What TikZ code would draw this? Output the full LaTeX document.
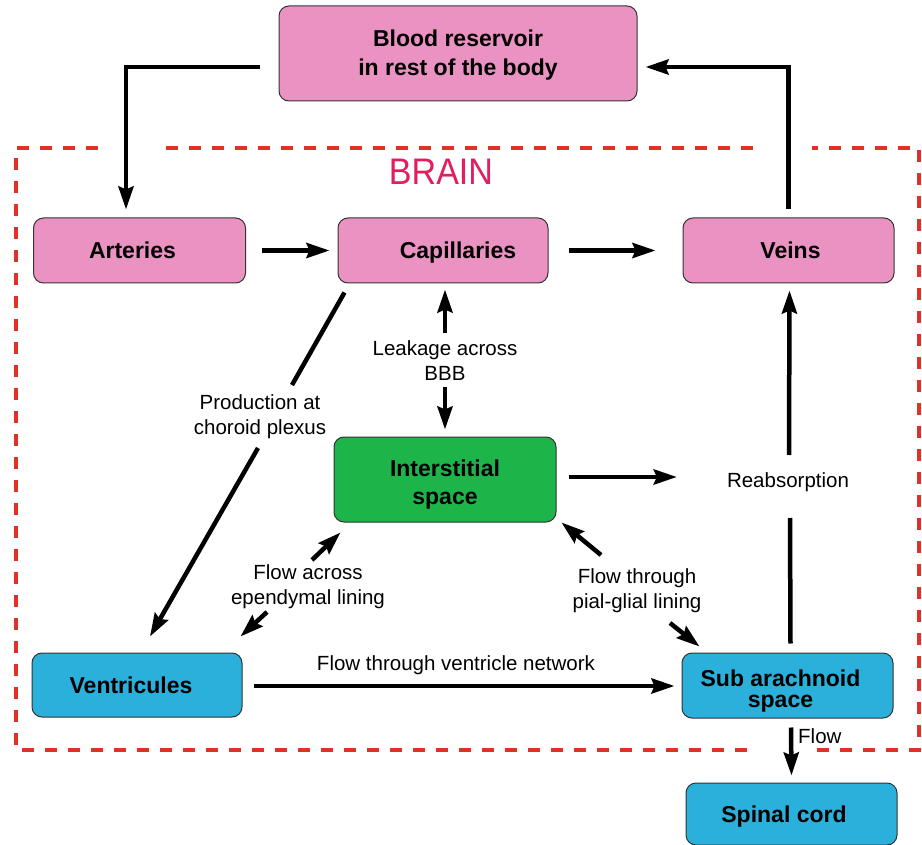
\documentclass[tikz,border=0pt]{standalone}
\usepackage{fontspec}
\setmainfont{Liberation Sans}
\newfontfamily\brainfont[FakeStretch=0.92]{Liberation Sans}
\usetikzlibrary{arrows.meta}
\definecolor{pinkc}{RGB}{234,146,193}
\definecolor{greenc}{RGB}{29,181,74}
\definecolor{bluec}{RGB}{42,176,218}
\definecolor{redc}{RGB}{224,49,39}
\definecolor{brainc}{RGB}{226,30,94}
\begin{document}
\begin{tikzpicture}[x=1pt,y=-1pt,
  box/.style={draw=black!80, line width=1pt, rounded corners=10pt, align=center, inner sep=0pt,
    font=\bfseries\fontsize{23}{29}\selectfont},
  one/.style={text height=17pt, text depth=0pt},
  pinkbox/.style={box, fill=pinkc},
  greenbox/.style={box, fill=greenc},
  bluebox/.style={box, fill=bluec},
  lbl/.style={font=\fontsize{20.5}{25}\selectfont, align=center, inner sep=0pt},
  arr/.style={line width=4.5pt, line join=miter, -{Stealth[length=23pt,width=15pt,inset=3pt]}},
  plain/.style={line width=4.5pt},
  border/.style={draw=redc, line width=4pt, dash pattern=on 12pt off 11pt}
]
\useasboundingbox (0,0) rectangle (922,845);

% brain boundary
\draw[border] (98,148) -- (16,148) -- (16,750) -- (758,750);
\draw[border] (817,750) -- (919,750) -- (919,148) -- (812,148);
\draw[border] (753,148) -- (157,148);
\node[font=\brainfont\fontsize{37}{40}\selectfont, text=brainc, inner sep=0pt] (brain) at (441,172) {BRAIN};

% boxes
\node[pinkbox, minimum width=358pt, minimum height=95pt] (res) at (458,53.5) {\rule{0pt}{19pt}Blood reservoir\\in rest of the body};
\node[pinkbox, one, minimum width=212pt, minimum height=65pt] (art) at (139.5,250.5) {Arteries\hspace*{14pt}};
\node[pinkbox, one, minimum width=210pt, minimum height=65pt] (cap) at (443,250.5) {\hspace*{30pt}Capillaries};
\node[pinkbox, one, minimum width=211pt, minimum height=65pt] (vein) at (788.5,250.5) {\hspace*{4pt}Veins};
\node[greenbox, minimum width=222pt, minimum height=85pt, font=\bfseries\fontsize{23}{28}\selectfont] (inter) at (445,479.5) {\rule{0pt}{27pt}Interstitial\\space};
\node[bluebox, one, minimum width=210pt, minimum height=64pt] (vent) at (137,685) {Ventricules\hspace*{12pt}};
\node[bluebox, minimum width=211pt, minimum height=65pt, font=\bfseries\fontsize{23}{21}\selectfont] (sub) at (787.5,685.5) {\rule{0pt}{27pt}Sub arachnoid\hspace*{14pt}\\space\hspace*{14pt}};
\node[bluebox, one, minimum width=211pt, minimum height=62pt] (spin) at (791.5,814) {Spinal cord\hspace*{15pt}};

% labels
\node[lbl] (leak) at (445,361) {Leakage across\\BBB};
\node[lbl] (prod) at (260,417) {Production at\\choroid plexus};
\node[lbl] (reab) at (788,482) {Reabsorption};
\node[lbl] (epen) at (308,587) {Flow across\\ependymal lining};
\node[lbl] (pial) at (637,590.5) {Flow through\\pial-glial lining};
\node[lbl] (vnet) at (456,665) {Flow through ventricle network};
\node[lbl, anchor=west] (flow) at (798,736) {Flow};

% connectors
\draw[arr] ([xshift=-19pt,yshift=-13.5pt]res.west) -| ([xshift=-13.5pt,yshift=8pt]art.north);
\draw[arr] ([yshift=8pt]vein.north) |- ([xshift=8pt,yshift=-13.5pt]res.east);
\draw[arr] ([xshift=16pt]art.east) -- ([xshift=-8pt]cap.west);
\draw[arr] ([xshift=20pt]cap.east) -- ([xshift=-27pt]vein.west);

\draw[arr] ([yshift=28pt]leak.center) -- ([xshift=2pt,yshift=-6pt]cap.south);
\draw[arr] ([yshift=-26pt]leak.center) -- ([yshift=7pt]inter.north);

\draw[plain] ([xshift=7pt,yshift=-9pt]cap.south west) -- ([xshift=32pt,yshift=32pt]prod.center);
\draw[arr] ([xshift=-2pt,yshift=-31pt]prod.center) -- ([xshift=13pt,yshift=16pt]vent.north);

\draw[arr] ([xshift=12pt,yshift=2.5pt]inter.east) -- ([xshift=-50pt,yshift=5pt]reab.west);
\draw[plain] ([xshift=3pt,yshift=9pt]sub.north) -- ([xshift=2pt,yshift=-36pt]reab.center);
\draw[arr] ([xshift=1pt,yshift=27pt]reab.center) -- ([xshift=1pt,yshift=-7pt]vein.south);

\draw[arr] ([xshift=4pt,yshift=27pt]epen.center) -- ([xshift=7pt,yshift=-10pt]inter.south west);
\draw[arr] ([xshift=-41pt,yshift=-25pt]epen.center) -- ([xshift=-2pt,yshift=16pt]vent.north east);

\draw[arr] ([xshift=-36pt,yshift=35.5pt]pial.center) -- ([xshift=5pt]inter.south east);
\draw[arr] ([xshift=33pt,yshift=-32.5pt]pial.center) -- ([xshift=18pt,yshift=6pt]sub.north west);

\draw[arr] ([xshift=11pt,yshift=-1pt]vent.east) -- ([xshift=-7pt,yshift=-0.5pt]sub.west);
\draw[arr] ([xshift=3.5pt,yshift=-9pt]sub.south) -- ([yshift=7pt]spin.north);
\end{tikzpicture}
\end{document}
